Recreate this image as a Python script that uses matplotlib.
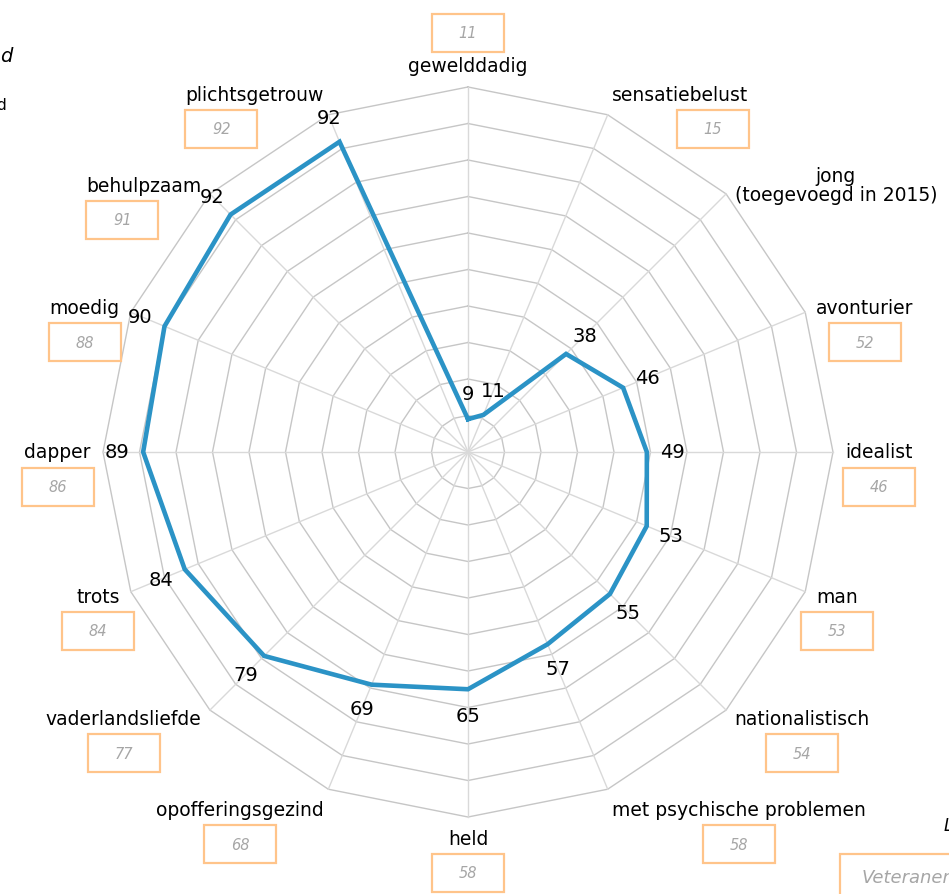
import numpy as np
import matplotlib
matplotlib.use('Agg')
import matplotlib.pyplot as plt
from matplotlib.patches import Rectangle

# categories clockwise from the top
categories = ['gewelddadig', 'sensatiebelust', 'jong\n(toegevoegd in 2015)', 'avonturier',
              'idealist', 'man', 'nationalistisch', 'met psychische problemen', 'held',
              'opofferingsgezind', 'vaderlandsliefde', 'trots', 'dapper', 'moedig',
              'behulpzaam', 'plichtsgetrouw']
values = [9, 11, 38, 46, 49, 53, 55, 57, 65, 69, 79, 84, 89, 90, 92, 92]
previous = [11, 15, None, 52, 46, 53, 54, 58, 58, 68, 77, 84, 86, 88, 91, 92]
rings = np.arange(10, 101, 10)

W, H = 949, 895
cx, cy = 468, 453        # centre in pixels (from top-left)
S = 3.65                 # pixels per value unit

fig = plt.figure(figsize=(W / 100, H / 100), dpi=100)
ax = fig.add_axes([0, 0, 1, 1])
ax.set_xlim(-cx / S, (W - cx) / S)
ax.set_ylim(-(H - cy) / S, cy / S)
ax.axis('off')

n = len(categories)
ang = np.arange(n) * 2 * np.pi / n
sx, cyv = np.sin(ang), np.cos(ang)

# grid
for r in rings:
    xs = np.append(r * sx, r * sx[0])
    ys = np.append(r * cyv, r * cyv[0])
    ax.plot(xs, ys, color='#c6c6c6', lw=1.0, zorder=1)
for i in range(n):
    ax.plot([0, 100 * sx[i]], [0, 100 * cyv[i]], color='#d9d9d9', lw=1.0, zorder=1)

# series
v = np.array(values, dtype=float)
ax.plot(np.append(v * sx, v[0] * sx[0]), np.append(v * cyv, v[0] * cyv[0]),
        color='#2b93c6', lw=3.3, solid_joinstyle='miter', zorder=3)
for i in range(n):
    d = v[i] + 26 / S
    ax.text(d * sx[i], d * cyv[i], str(values[i]), fontsize=14, color='black',
            ha='center', va='center', zorder=4)

# category labels
labels = []
for i in range(n):
    d = 100 + 12 / S
    if sx[i] > 0.05:
        ha = 'left'
    elif sx[i] < -0.05:
        ha = 'right'
    else:
        ha = 'center'
    if cyv[i] > 0.8:
        va = 'bottom'
    elif cyv[i] < -0.8:
        va = 'top'
    else:
        va = 'center'
    t = ax.text(d * sx[i], d * cyv[i], categories[i], fontsize=13.5, color='black',
                ha=ha, va=va, multialignment='center', linespacing=1.0)
    labels.append(t)

# boxes with last year's values under the labels
fig.canvas.draw()
rend = fig.canvas.get_renderer()
inv = ax.transData.inverted()
bw, bh = 72 / S, 38 / S
for i in range(n):
    if previous[i] is None:
        continue
    bb = labels[i].get_window_extent(rend)
    (x0, y0), (x1, y1) = inv.transform([[bb.x0, bb.y0], [bb.x1, bb.y1]])
    xc = (x0 + x1) / 2
    if cyv[i] > 0.6 and sx[i] < -0.05:
        xc = x0 + bw / 2
    elif cyv[i] > 0.6 and sx[i] > 0.05:
        xc = x1 - bw / 2
    if cyv[i] > 0.99:
        yb = y1 + 4 / S
    else:
        yb = y0 - 6 / S - bh
    ax.add_patch(Rectangle((xc - bw / 2, yb), bw, bh, fill=False,
                           edgecolor='#ffc48a', lw=1.6, zorder=2))
    ax.text(xc, yb + bh / 2, str(previous[i]), fontsize=10.5, style='italic',
            color='#a6a6a6', ha='center', va='center')

# fragments of surrounding elements cut off by the crop
ax.text(-cx / S + 12 / S, cy / S - 57 / S, 'd', fontsize=14, style='italic',
        ha='right', va='center')
ax.text(-cx / S + 6 / S, cy / S - 106 / S, 'd', fontsize=11, ha='right', va='center')
ax.text(-cx / S + 944 / S, cy / S - 826 / S, 'L', fontsize=12, style='italic',
        ha='left', va='center')
ax.add_patch(Rectangle((-cx / S + 840 / S, -(H - cy) / S - 5 / S), 130 / S, 45 / S,
                       fill=False, edgecolor='#ffc48a', lw=1.6, clip_on=False))
ax.text(-cx / S + 862 / S, cy / S - 878 / S, 'Veteranen', fontsize=13,
        style='italic', color='#a6a6a6', ha='left', va='center')

fig.savefig('out.png', dpi=100)
